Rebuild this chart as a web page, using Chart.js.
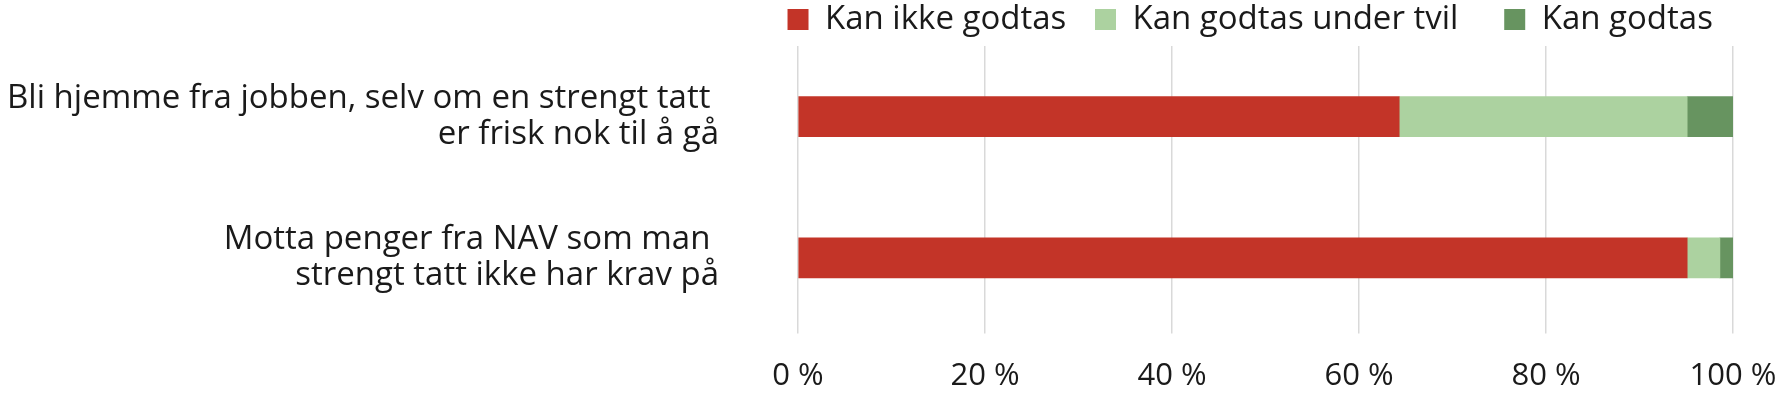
<!DOCTYPE html>
<html lang="no">
<head>
<meta charset="utf-8">
<title>Kan godtas</title>
<script src="https://cdn.jsdelivr.net/npm/chart.js@4"></script>
<style>
    html, body { margin: 0; padding: 0; background: #ffffff; }
    #wrap { width: 1781px; height: 395px; }
</style>
</head>
<body>
<div id="wrap"><canvas id="chart" width="1781" height="395"></canvas></div>
<script>
// Categories (multi-line labels, trailing spaces kept as in the source)
const categories = [
    ['Bli hjemme fra jobben, selv om en strengt tatt ', 'er frisk nok til å gå'],
    ['Motta penger fra NAV som man ', 'strengt tatt ikke har krav på']
];

// Series values, percent
const kanIkkeGodtas = [64.3, 95.1];
const kanGodtasUnderTvil = [30.8, 3.5];
const kanGodtas = [4.9, 1.4];

// Tick values on the percent axis
const xTicks = [0, 20, 40, 60, 80, 100];

const redColor = '#c33428';
const lightGreen = '#acd2a0';
const darkGreen = '#679460';
const textColor = '#1a1a1a';
const gridColor = '#d9d9d9';
const fontFamily = "'Open Sans', sans-serif";

// Extra gap after each legend entry (the legend has no item spacing option)
const legendGaps = ['   ', '     ', '  '];

document.addEventListener('DOMContentLoaded', () => {
    const ctx = document.getElementById('chart');

    new Chart(ctx, {
        type: 'bar',
        data: {
            labels: categories,
            datasets: [
                { label: 'Kan ikke godtas', data: kanIkkeGodtas, backgroundColor: redColor },
                { label: 'Kan godtas under tvil', data: kanGodtasUnderTvil, backgroundColor: lightGreen },
                { label: 'Kan godtas', data: kanGodtas, backgroundColor: darkGreen }
            ]
        },
        options: {
            indexAxis: 'y',
            responsive: false,
            animation: false,
            barThickness: 40,
            layout: {
                padding: { top: 0, right: 48, bottom: 0, left: 0 }
            },
            plugins: {
                legend: {
                    position: 'top',
                    align: 'end',
                    labels: {
                        boxWidth: 21,
                        boxHeight: 21,
                        padding: 3,
                        color: textColor,
                        font: { family: fontFamily, size: 33 },
                        generateLabels: (chart) => {
                            const items = Chart.defaults.plugins.legend.labels.generateLabels(chart);
                            items.forEach((item, i) => { item.text = item.text + legendGaps[i]; });
                            return items;
                        }
                    }
                },
                tooltip: { enabled: false }
            },
            scales: {
                x: {
                    stacked: true,
                    min: 0,
                    max: 100,
                    afterBuildTicks: (scale) => {
                        scale.ticks = xTicks.map(v => ({ value: v }));
                    },
                    afterFit: (scale) => {
                        scale.height = 66.6;
                        scale.paddingLeft = 0;
                        scale.paddingRight = 0;
                    },
                    ticks: {
                        color: textColor,
                        padding: 24,
                        font: { family: fontFamily, size: 31 },
                        maxRotation: 0,
                        callback: (v) => v + ' %'
                    },
                    grid: {
                        color: gridColor,
                        lineWidth: 1.5,
                        tickLength: 5
                    },
                    border: { display: false }
                },
                y: {
                    stacked: true,
                    afterFit: (scale) => {
                        scale.width = 798;
                        scale.paddingTop = 0;
                        scale.paddingBottom = 0;
                    },
                    ticks: {
                        color: textColor,
                        padding: 79,
                        font: { family: fontFamily, size: 33, lineHeight: 1.1 }
                    },
                    grid: { display: false, drawTicks: false },
                    border: { display: false }
                }
            }
        }
    });
});
</script>
</body>
</html>
